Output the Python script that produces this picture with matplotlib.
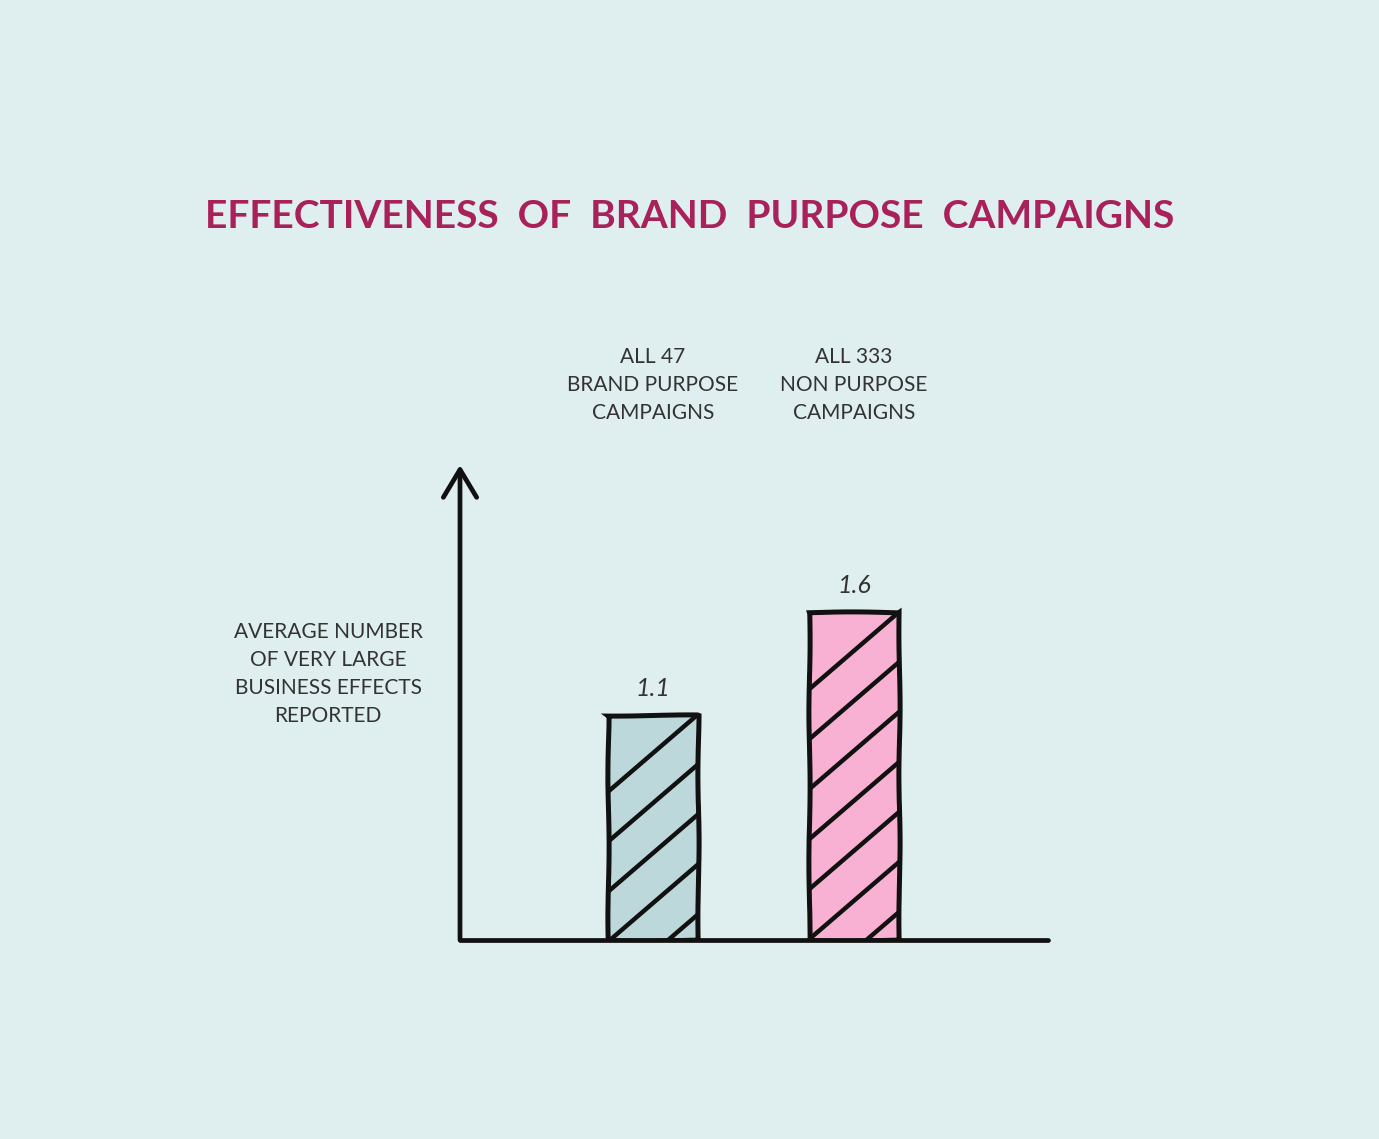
import matplotlib.pyplot as plt
import numpy as np

# chart data
categories = ['ALL 47\nBRAND PURPOSE\nCAMPAIGNS', 'ALL 333\nNON PURPOSE\nCAMPAIGNS']
values = [1.1, 1.6]
value_labels = ['1.1', '1.6']
bar_colors = ['#bdd8db', '#f9b1d3']
title = 'EFFECTIVENESS  OF  BRAND  PURPOSE  CAMPAIGNS'
y_label = 'AVERAGE NUMBER\nOF VERY LARGE\nBUSINESS EFFECTS\nREPORTED'

bg = '#dfeeee'
ink = '#111111'
grey = '#333333'

fig = plt.figure(figsize=(13.79, 11.39), dpi=100, facecolor=bg)
ax = fig.add_axes([460 / 1379, 199 / 1139, 588 / 1379, 475 / 1139])
ax.set_facecolor(bg)

x = np.arange(len(values))
bars = ax.bar(x, values, width=0.443, color=bar_colors, edgecolor=ink,
              linewidth=3.6, zorder=3)
ax.set_xlim(-0.96, 1.965)
ax.set_ylim(0, 2.32)

# slight hand drawn wobble on the bars
for b in bars:
    b.set_sketch_params(0.6, 160, 2)

# wide diagonal stripes, clipped to each bar
slope = 0.86
gap = 50  # pixels between stripes (vertical)
inv = ax.transData.inverted()
for b in bars:
    (x0, y0), (x1, y1) = ax.transData.transform(
        [(b.get_x(), 0), (b.get_x() + b.get_width(), b.get_height())])
    k = 0
    while y1 + k * gap + slope * (x1 - x0) > y0 - 2 * gap:
        pts = inv.transform([(x0 - 20, y1 + k * gap - slope * (x1 - x0 + 20)),
                             (x1 + 20, y1 + k * gap + slope * 20)])
        ln, = ax.plot(pts[:, 0], pts[:, 1], color=ink, lw=3.2, zorder=4,
                      solid_capstyle='butt')
        ln.set_clip_path(b)
        k -= 1

ax.set_xlim(-0.96, 1.965)
ax.set_ylim(0, 2.32)

# value labels above bars
for xi, v, lab in zip(x, values, value_labels):
    ax.annotate(lab, xy=(xi, v), xytext=(0, 11), textcoords='offset points',
                ha='center', va='bottom', fontsize=18, style='italic',
                color=grey, family='Lato')

# category labels above the chart
for xi, cat in zip(x, categories):
    ax.annotate(cat, xy=(xi, 1.168), xycoords=('data', 'axes fraction'),
                ha='center', va='center', fontsize=15, color=grey,
                family='Lato', linespacing=1.5, annotation_clip=False)

# y label on the left
ax.text(-0.224, 0.56, y_label, transform=ax.transAxes, ha='center',
        va='center', fontsize=15, color=grey, family='Lato', linespacing=1.5)

# axes: bottom line plus arrow for y
for s in ['top', 'right', 'left']:
    ax.spines[s].set_visible(False)
ax.spines['bottom'].set_linewidth(3.4)
ax.spines['bottom'].set_color(ink)
ax.spines['bottom'].set_capstyle('round')
ax.spines['bottom'].set_zorder(5)
ax.set_xticks([])
ax.set_yticks([])
ax.annotate('', xy=(0, 1), xytext=(0, 0), xycoords='axes fraction',
            arrowprops=dict(arrowstyle='->,head_length=1.0,head_width=0.6',
                            lw=3.4, color=ink, mutation_scale=20,
                            shrinkA=0, shrinkB=0),
            annotation_clip=False)

fig.text(0.5, 0.8095, title, ha='center', va='center', fontsize=28,
         fontweight='bold', color='#a8215a', family='Lato')

fig.savefig('out.png', dpi=100, facecolor=bg)
